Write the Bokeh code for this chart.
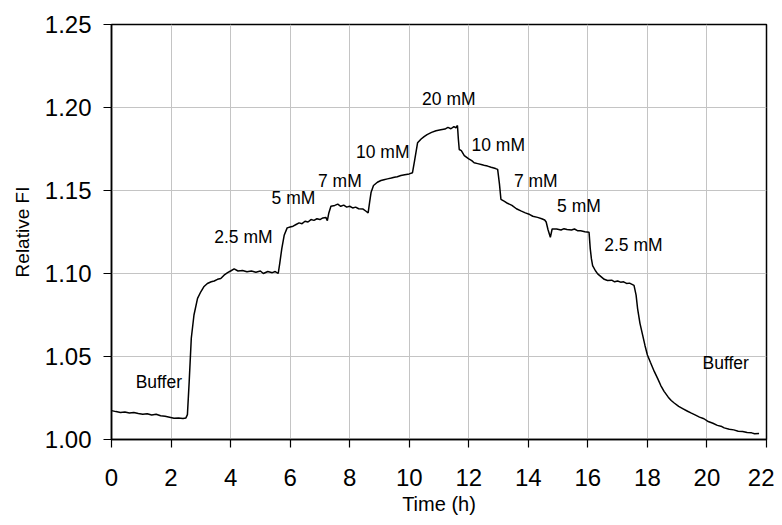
from bokeh.plotting import figure
from bokeh.models import FixedTicker, ColumnDataSource, Range1d
from bokeh.core.properties import value
from bokeh.embed import file_html
from bokeh.resources import INLINE

# Buffer baseline and first rise (2.5 mM)
t_a = [0.0, 0.15, 0.3, 0.45, 0.6, 0.75, 0.9, 1.05, 1.2, 1.35, 1.5, 1.65, 1.8, 1.95, 2.1, 2.25, 2.4, 2.5,
       2.55, 2.61, 2.68, 2.77, 2.89, 3.0, 3.1, 3.22, 3.35, 3.45, 3.56, 3.67, 3.78, 3.9, 4.0, 4.12, 4.25,
       4.4, 4.55, 4.7, 4.85, 5.0, 5.1, 5.25, 5.4, 5.5, 5.6]
v_a = [1.0174, 1.0168, 1.0163, 1.0166, 1.0160, 1.0163, 1.0157, 1.0152, 1.0155, 1.0148, 1.0152, 1.0143,
       1.0140, 1.0134, 1.0128, 1.0130, 1.0126, 1.0130,
       1.015, 1.035, 1.061, 1.075, 1.085, 1.089, 1.092, 1.094, 1.095, 1.0955, 1.0965, 1.097, 1.099,
       1.1005, 1.1015, 1.1028, 1.1015, 1.1018, 1.1010, 1.1015, 1.1008, 1.1015, 1.1000, 1.1012, 1.1005,
       1.1012, 1.1000]

# 5 mM, 7 mM, 10 mM, 20 mM steps up
t_b = [5.65, 5.72, 5.80, 5.9, 6.0, 6.1, 6.2, 6.3, 6.4, 6.5, 6.6, 6.7, 6.8, 6.9, 7.0, 7.1, 7.2, 7.25,
       7.3, 7.37, 7.5, 7.6, 7.7, 7.8, 7.9, 8.0, 8.1, 8.2, 8.3, 8.45, 8.55, 8.62, 8.67, 8.72, 8.8, 8.93,
       9.05, 9.15, 9.27, 9.4, 9.5, 9.6, 9.72, 9.85, 10.0, 10.11, 10.18, 10.28, 10.4, 10.5, 10.6, 10.75,
       10.9, 11.06, 11.2, 11.3, 11.4, 11.5, 11.57, 11.62]
v_b = [1.106, 1.115, 1.123, 1.1275, 1.128, 1.1285, 1.1295, 1.1305, 1.1300, 1.1315, 1.131, 1.1325,
       1.1320, 1.1330, 1.1325, 1.1335, 1.1338, 1.1318,
       1.1365, 1.1405, 1.1410, 1.1418, 1.1405, 1.1412, 1.1400, 1.1405, 1.1395, 1.1400, 1.1390, 1.1388,
       1.1375, 1.1365, 1.1430, 1.1490, 1.1530, 1.1550,
       1.1560, 1.1565, 1.1570, 1.1575, 1.1580, 1.1583, 1.1590, 1.1595, 1.1600, 1.1607, 1.1680, 1.1787,
       1.1810, 1.1825, 1.1837, 1.1850,
       1.1860, 1.1866, 1.1870, 1.1880, 1.1872, 1.1885, 1.1878, 1.1892]

# steps down: 10, 7, 5, 2.5 mM and buffer wash
t_c = [11.65, 11.68, 11.75, 11.85, 12.0, 12.1, 12.18, 12.3, 12.45, 12.55, 12.63, 12.75, 12.9, 12.97,
       13.03, 13.08, 13.2, 13.3, 13.45, 13.6, 13.75, 13.9, 14.05, 14.15, 14.31, 14.45, 14.55, 14.6,
       14.66, 14.74, 14.8, 14.95, 15.1, 15.2, 15.3, 15.45, 15.55, 15.65, 15.76, 15.9, 16.04, 16.08,
       16.12, 16.16, 16.25, 16.33, 16.45, 16.55, 16.66, 16.8, 16.9, 17.0, 17.1, 17.2, 17.3, 17.4, 17.55,
       17.62, 17.67, 17.75, 17.84, 17.92, 18.0, 18.1, 18.23, 18.35, 18.45, 18.56, 18.7, 18.8, 18.9,
       19.05, 19.2, 19.35, 19.46, 19.6, 19.75, 19.9, 20.02, 20.2, 20.35, 20.5, 20.58, 20.75, 20.9,
       21.05, 21.2, 21.35, 21.5, 21.6, 21.75]
v_c = [1.1810, 1.1747, 1.1740, 1.1710, 1.1690, 1.1680, 1.1667, 1.1662, 1.1655, 1.1650, 1.1647, 1.1640,
       1.1632, 1.1627,
       1.1540, 1.1447, 1.1435, 1.1423, 1.1410, 1.1390, 1.1377, 1.1365, 1.1355, 1.1345, 1.1338, 1.1330,
       1.1322, 1.1310,
       1.1265, 1.1218, 1.1268, 1.1268, 1.1262, 1.1270, 1.1265, 1.1262, 1.1268, 1.1258, 1.1257, 1.1252,
       1.1248, 1.1150,
       1.1088, 1.1048, 1.1018, 1.0998, 1.0980, 1.0965, 1.0958, 1.0960, 1.0950, 1.0955, 1.0948, 1.0950,
       1.0940, 1.0942, 1.0928,
       1.0870, 1.0789, 1.0700, 1.0629, 1.0565, 1.0509, 1.0465, 1.0410, 1.0365, 1.0325, 1.0290, 1.0255,
       1.0235, 1.0220,
       1.0200, 1.0185, 1.0170, 1.0160, 1.0148, 1.0135, 1.0125, 1.0110, 1.0098, 1.0085, 1.0078, 1.0070,
       1.0062, 1.0058,
       1.0050, 1.0048, 1.0042, 1.0040, 1.0035, 1.0036]

time_h = t_a + t_b + t_c
relative_fi = v_a + v_b + v_c

label_text = ["Buffer", "2.5 mM", "5 mM", "7 mM", "10 mM", "20 mM",
              "10 mM", "7 mM", "5 mM", "2.5 mM", "Buffer"]
label_t = [1.59, 4.43, 6.11, 7.67, 9.11, 11.33, 12.99, 14.25, 15.70, 17.53, 20.63]
label_v = [1.0345, 1.1218, 1.1457, 1.1557, 1.1729, 1.2052, 1.1777, 1.1557, 1.1404, 1.1174, 1.0459]

x_ticks = [0, 2, 4, 6, 8, 10, 12, 14, 16, 18, 20, 22]
y_ticks = [1.00, 1.05, 1.10, 1.15, 1.20, 1.25]
y_tick_labels = ["1.00", "1.05", "1.10", "1.15", "1.20", "1.25"]

FONT = "Liberation Sans"

p = figure(width=774, height=517, output_backend="svg", toolbar_location=None,
           x_range=Range1d(0, 22), y_range=Range1d(1.0, 1.25),
           min_border_left=111, min_border_right=8, min_border_top=24, min_border_bottom=75)

p.outline_line_color = "black"
p.outline_line_width = 1.5
p.background_fill_color = "white"
p.border_fill_color = "white"

for g in (p.xgrid[0], p.ygrid[0]):
    g.grid_line_color = "#c4c4c4"
    g.grid_line_width = 1

p.xaxis.ticker = FixedTicker(ticks=x_ticks)
p.yaxis.ticker = FixedTicker(ticks=y_ticks)
p.xgrid.ticker = FixedTicker(ticks=x_ticks)
p.ygrid.ticker = FixedTicker(ticks=y_ticks)
p.yaxis.major_label_overrides = {t: s for t, s in zip(y_ticks, y_tick_labels)}

for ax in (p.xaxis[0], p.yaxis[0]):
    ax.axis_line_color = "black"
    ax.axis_line_width = 1.5
    ax.major_tick_line_color = "black"
    ax.major_tick_line_width = 1.2
    ax.major_tick_out = 8
    ax.major_tick_in = 0
    ax.minor_tick_line_color = None
    ax.major_label_text_font = FONT
    ax.major_label_text_font_size = "24px"
    ax.major_label_text_color = "black"
    ax.axis_label_text_font = FONT
    ax.axis_label_text_font_style = "normal"
    ax.axis_label_text_color = "black"

p.xaxis.axis_label = "Time (h)"
p.yaxis.axis_label = "Relative FI"
p.xaxis.axis_label_text_font_size = "20px"
p.yaxis.axis_label_text_font_size = "19px"
p.xaxis.major_label_standoff = 21
p.yaxis.major_label_standoff = 12
p.xaxis.axis_label_standoff = 4
p.yaxis.axis_label_standoff = 9

src = ColumnDataSource(dict(t=time_h, v=relative_fi))
p.line("t", "v", source=src, line_color="black", line_width=1.5)

lab = ColumnDataSource(dict(t=label_t, v=label_v, s=label_text))
p.text("t", "v", text="s", source=lab, text_font=value(FONT), text_font_size="17.5px",
       text_align="center", text_baseline="middle", text_color="black")

open("out.html", "w").write(file_html(p, INLINE))
